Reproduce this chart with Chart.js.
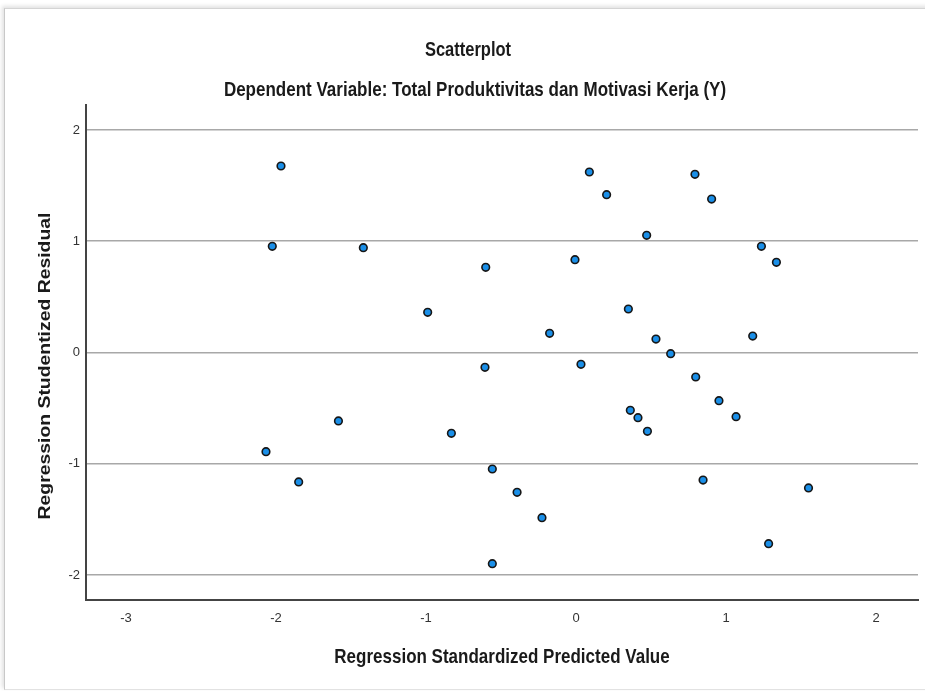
<!DOCTYPE html>
<html>
<head>
<meta charset="utf-8">
<script src="https://cdn.jsdelivr.net/npm/chart.js@4.4.1/dist/chart.umd.min.js"></script>
<style>
  html, body { margin: 0; padding: 0; background: #ffffff; }
  #wrap { position: relative; width: 925px; height: 691px; overflow: hidden; background: #fff; }
  #frame { position: absolute; left: 4px; top: 8px; width: 940px; height: 680px;
           border-top: 1px solid #d4d4d4; border-left: 1px solid #c8c8c8; border-bottom: 1px solid #e2e2e2;
           box-shadow: -2px -2px 4px rgba(0,0,0,0.12); background: #fff; }
  #c { position: absolute; left: 0; top: 0; }
</style>
</head>
<body>
<div id="wrap">
  <div id="frame"></div>
  <canvas id="c" width="925" height="691"></canvas>
</div>
<script>
// Regression Standardized Predicted Value (x) and Studentized Residual (y)
const predictedValues = [
  -1.967, -2.025, -1.418, 0.089, 0.204, 0.471, -0.602, -0.007, -0.989, 0.349,
  -0.176, -0.607, 0.033, -1.584, 0.362, 0.413, -2.067, -1.849, -0.831, -0.558,
  -0.393, -0.227, -0.558, 0.476, 0.793, 0.904, 1.236, 1.336, 0.533, 1.178,
  0.631, 0.798, 0.953, 1.067, 0.847, 1.550, 1.284
];
const studentizedResiduals = [
  1.676, 0.954, 0.942, 1.622, 1.418, 1.053, 0.765, 0.834, 0.361, 0.391,
  0.172, -0.133, -0.106, -0.615, -0.520, -0.586, -0.891, -1.163, -0.726, -1.047,
  -1.256, -1.484, -1.898, -0.708, 1.601, 1.379, 0.954, 0.810, 0.121, 0.148,
  -0.011, -0.220, -0.433, -0.577, -1.146, -1.217, -1.718
];
const chartTitle = "Scatterplot";
const chartSubtitle = "Dependent Variable: Total Produktivitas dan Motivasi Kerja (Y)";
const xAxisTitle = "Regression Standardized Predicted Value";
const yAxisTitle = "Regression Studentized Residual";
const xRange = [-3.267, 2.28];
const yRange = [-2.224, 2.224];

const points = predictedValues.map((x, i) => ({ x: x, y: studentizedResiduals[i] }));

const FONT = "'Liberation Sans', Arial, sans-serif";

function drawText(ctx, text, x, y, font, sx, sy, rot) {
  ctx.save();
  ctx.translate(x, y);
  if (rot) ctx.rotate(rot);
  ctx.scale(sx, sy);
  ctx.font = font;
  ctx.fillStyle = '#1a1a1a';
  ctx.textAlign = 'center';
  ctx.textBaseline = 'middle';
  ctx.fillText(text, 0, 0);
  ctx.restore();
}

const titlePlugin = {
  id: 'titles',
  afterDraw(chart) {
    const ctx = chart.ctx;
    const area = chart.chartArea;
    const cx = (area.left + area.right) / 2;
    drawText(ctx, chartTitle, 468, 51, "bold 16.5px " + FONT, 1, 1.18, 0);
    drawText(ctx, chartSubtitle, 475, 90, "bold 17px " + FONT, 1, 1.18, 0);
    drawText(ctx, xAxisTitle, cx, 657, "bold 17px " + FONT, 1, 1.18, 0);
    drawText(ctx, yAxisTitle, 45.5, 366, "bold 17px " + FONT, 1.14, 1.0, -Math.PI / 2);
  }
};

new Chart(document.getElementById('c'), {
  type: 'scatter',
  data: {
    datasets: [{
      data: points,
      backgroundColor: '#1a8fe8',
      borderColor: '#161616',
      borderWidth: 1.6,
      pointRadius: 3.8,
      pointHoverRadius: 3.8
    }]
  },
  options: {
    responsive: false,
    animation: false,
    events: [],
    layout: { padding: { top: 105, right: 7, left: 0, bottom: 0 } },
    plugins: { legend: { display: false }, tooltip: { enabled: false }, title: { display: false } },
    scales: {
      x: {
        type: 'linear',
        min: xRange[0],
        max: xRange[1],
        afterFit(scale) { scale.height = 91; },
        ticks: {
          stepSize: 1,
          includeBounds: false,
          padding: 11,
          color: '#333333',
          font: { family: FONT, size: 13 },
          maxRotation: 0
        },
        grid: { display: false, drawTicks: false },
        border: { display: true, color: '#444444', width: 2 },
        title: { display: false }
      },
      y: {
        type: 'linear',
        min: yRange[0],
        max: yRange[1],
        afterFit(scale) { scale.width = 86; },
        ticks: {
          stepSize: 1,
          includeBounds: false,
          padding: 6,
          color: '#333333',
          font: { family: FONT, size: 13 }
        },
        grid: { display: true, drawTicks: false, color: '#a8a8a8', lineWidth: 1.5 },
        border: { display: true, color: '#444444', width: 2 },
        title: { display: false }
      }
    }
  },
  plugins: [titlePlugin]
});
</script>
</body>
</html>
